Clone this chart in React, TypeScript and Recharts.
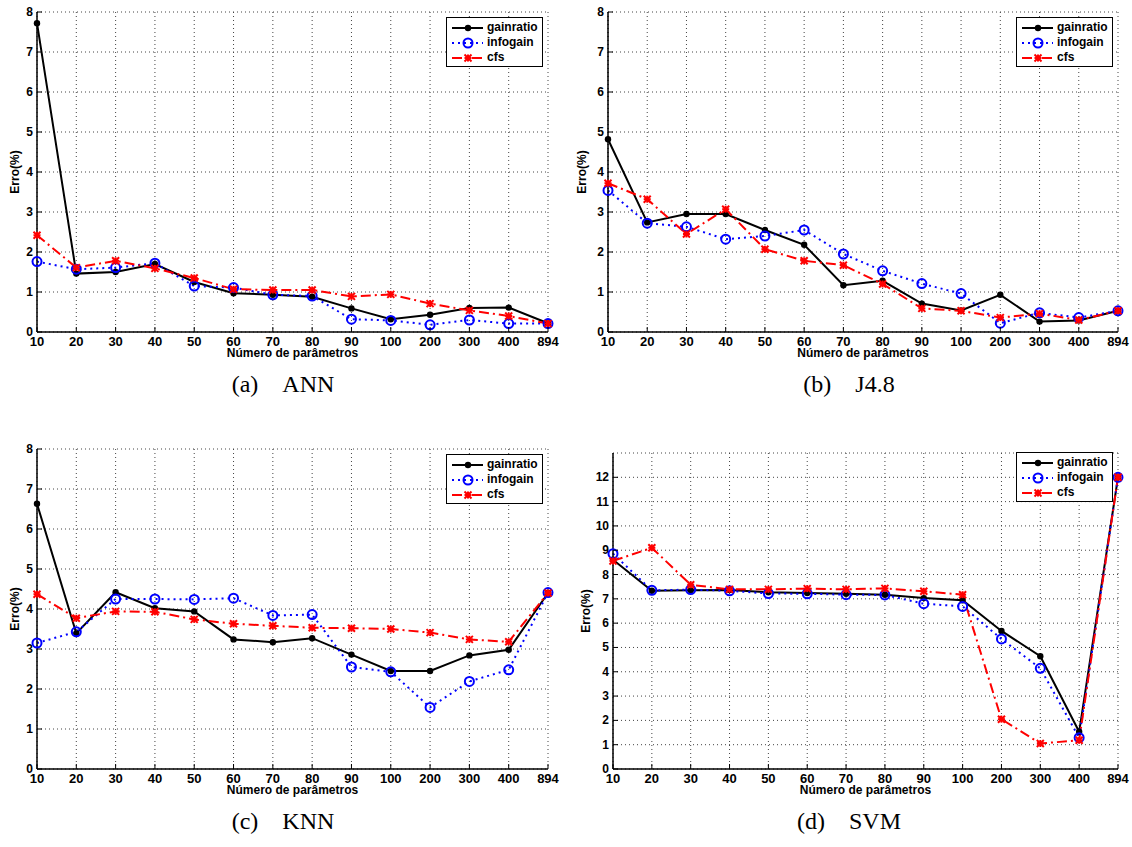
import { LineChart, Line, XAxis, YAxis, CartesianGrid, Legend } from 'recharts'

const categories = ['10', '20', '30', '40', '50', '60', '70', '80', '90', '100', '200', '300', '400', '894']

const annGainratio = [7.72, 1.46, 1.5, 1.7, 1.25, 0.97, 0.93, 0.88, 0.59, 0.32, 0.43, 0.6, 0.61, 0.22]
const annInfogain = [1.76, 1.57, 1.61, 1.72, 1.15, 1.11, 0.93, 0.9, 0.32, 0.29, 0.18, 0.3, 0.21, 0.21]
const annCfs = [2.42, 1.61, 1.78, 1.59, 1.35, 1.07, 1.05, 1.05, 0.89, 0.94, 0.71, 0.54, 0.4, 0.21]

const j48Gainratio = [4.82, 2.74, 2.95, 2.95, 2.55, 2.18, 1.17, 1.28, 0.71, 0.54, 0.93, 0.26, 0.29, 0.53]
const j48Infogain = [3.54, 2.72, 2.63, 2.32, 2.4, 2.55, 1.95, 1.53, 1.21, 0.96, 0.22, 0.48, 0.36, 0.53]
const j48Cfs = [3.72, 3.32, 2.45, 3.07, 2.07, 1.78, 1.67, 1.2, 0.59, 0.53, 0.36, 0.46, 0.3, 0.53]

const knnGainratio = [6.63, 3.39, 4.42, 4.02, 3.94, 3.24, 3.17, 3.27, 2.86, 2.45, 2.45, 2.84, 2.98, 4.4]
const knnInfogain = [3.15, 3.43, 4.25, 4.25, 4.24, 4.27, 3.84, 3.86, 2.55, 2.43, 1.54, 2.19, 2.48, 4.41]
const knnCfs = [4.37, 3.77, 3.94, 3.93, 3.74, 3.63, 3.58, 3.53, 3.52, 3.5, 3.41, 3.24, 3.18, 4.4]

const svmGainratio = [8.61, 7.33, 7.35, 7.36, 7.27, 7.24, 7.21, 7.17, 7.03, 6.94, 5.68, 4.64, 1.53, 12.0]
const svmInfogain = [8.86, 7.35, 7.38, 7.33, 7.22, 7.21, 7.17, 7.16, 6.8, 6.69, 5.35, 4.14, 1.29, 12.0]
const svmCfs = [8.56, 9.1, 7.58, 7.39, 7.39, 7.42, 7.39, 7.43, 7.31, 7.17, 2.05, 1.05, 1.18, 12.0]

const ticks8 = [0, 1, 2, 3, 4, 5, 6, 7, 8]
const ticks12 = [0, 1, 2, 3, 4, 5, 6, 7, 8, 9, 10, 11, 12]

const FONT = '"Liberation Sans", Arial, Helvetica, sans-serif'

const series = [
  { key: 'gainratio', color: '#000000', dash: undefined as string | undefined, marker: 'dot' },
  { key: 'infogain', color: '#0000ff', dash: '2 4', marker: 'circle' },
  { key: 'cfs', color: '#ff0000', dash: '10 4 2 4', marker: 'star' },
]

const buildRows = (g: number[], i: number[], c: number[]) =>
  categories.map((n, k) => ({ n, gainratio: g[k], infogain: i[k], cfs: c[k] }))

function Marker({ cx, cy, type, color }: { cx: number; cy: number; type: string; color: string }) {
  if (type === 'dot') return <circle cx={cx} cy={cy} r={3.2} fill={color} />
  if (type === 'circle') return <circle cx={cx} cy={cy} r={4.5} fill="none" stroke={color} strokeWidth={2} />
  const s = 3.5
  return (
    <g stroke={color} strokeWidth={2}>
      <line x1={cx - s} y1={cy} x2={cx + s} y2={cy} />
      <line x1={cx - s} y1={cy - s} x2={cx + s} y2={cy + s} />
      <line x1={cx - s} y1={cy + s} x2={cx + s} y2={cy - s} />
      <line x1={cx} y1={cy - s} x2={cx} y2={cy + s} />
    </g>
  )
}

const BottomTick = (props: any) => {
  const { x, y, payload } = props
  return (
    <g>
      <line x1={x} y1={y} x2={x} y2={y - 5} stroke="#000" />
      <text x={x} y={y + 14} textAnchor="middle" fontSize={13} fontWeight="bold" fill="#000">
        {payload.value}
      </text>
    </g>
  )
}

const LeftTick = (props: any) => {
  const { x, y, payload } = props
  return (
    <g>
      <line x1={x} y1={y} x2={x + 5} y2={y} stroke="#000" />
      <text x={x - 4} y={y + 4} textAnchor="end" fontSize={12} fontWeight="bold" fill="#000">
        {payload.value}
      </text>
    </g>
  )
}

const TopTick = (props: any) => <line x1={props.x} y1={props.y} x2={props.x} y2={props.y + 5} stroke="#000" />
const RightTick = (props: any) => <line x1={props.x} y1={props.y} x2={props.x - 5} y2={props.y} stroke="#000" />

const LegendBox = () => (
  <div
    style={{
      width: 97,
      height: 50,
      boxSizing: 'border-box',
      border: '1.5px solid #000',
      background: '#fff',
      paddingTop: 2,
      fontFamily: FONT,
      fontWeight: 'bold',
      fontSize: 12,
      color: '#000',
    }}
  >
    {series.map((s) => (
      <div key={s.key} style={{ display: 'flex', alignItems: 'center', height: 15 }}>
        <svg width={40} height={14} style={{ flex: 'none' }}>
          <line x1={5} y1={7} x2={36} y2={7} stroke={s.color} strokeWidth={2} strokeDasharray={s.dash} />
          <Marker cx={21} cy={7} type={s.marker} color={s.color} />
        </svg>
        <span style={{ lineHeight: '15px' }}>{s.key}</span>
      </div>
    ))}
  </div>
)

interface PanelProps {
  left: number
  top: number
  rows: { n: string; gainratio: number; infogain: number; cfs: number }[]
  yMax: number
  yTicks: number[]
  plotTop: number
  plotLeft: number
  plotRight: number
  yLabelX: number
  legendTop: number
  label: string
  name: string
}

const W = 566
const H = 370

function Panel({ left, top, rows, yMax, yTicks, plotTop, plotLeft, plotRight, yLabelX, legendTop, label, name }: PanelProps) {
  const plotBottom = 332
  const margin = { top: plotTop, left: plotLeft - 30, right: W - plotRight, bottom: H - plotBottom - 25 }
  return (
    <div style={{ position: 'absolute', left, top, width: W, height: 437 }}>
      <LineChart width={W} height={H} data={rows} margin={margin} style={{ fontFamily: FONT }}>
        <CartesianGrid stroke="#444" strokeDasharray="1 3" />
        <XAxis
          dataKey="n"
          interval={0}
          height={25}
          tickSize={0}
          tickMargin={0}
          tick={<BottomTick />}
          axisLine={{ stroke: '#000', strokeWidth: 1.5 }}
          label={{
            value: 'Número de parâmetros',
            position: 'insideBottom',
            offset: 0,
            style: { fontSize: 12, fontWeight: 'bold', fill: '#000' },
          }}
        />
        <XAxis
          xAxisId="top"
          orientation="top"
          dataKey="n"
          interval={0}
          height={0}
          tickSize={0}
          tickMargin={0}
          tick={<TopTick />}
          axisLine={{ stroke: '#000', strokeWidth: 1.5 }}
        />
        <YAxis
          type="number"
          domain={[0, yMax]}
          ticks={yTicks}
          interval={0}
          width={30}
          tickSize={0}
          tickMargin={0}
          tick={<LeftTick />}
          axisLine={{ stroke: '#000', strokeWidth: 1.5 }}
          allowDataOverflow
          label={{
            value: 'Erro(%)',
            angle: -90,
            position: 'insideLeft',
            offset: yLabelX - (plotLeft - 30),
            style: { textAnchor: 'middle', fontSize: 12, fontWeight: 'bold', fill: '#000' },
          }}
        />
        <YAxis
          yAxisId="right"
          orientation="right"
          type="number"
          domain={[0, yMax]}
          ticks={yTicks}
          interval={0}
          width={0}
          tickSize={0}
          tickMargin={0}
          tick={<RightTick />}
          axisLine={{ stroke: '#000', strokeWidth: 1.5 }}
          allowDataOverflow
        />
        <Legend
          layout="vertical"
          align="center"
          verticalAlign="middle"
          content={() => <LegendBox />}
          wrapperStyle={{ top: legendTop, left: plotRight - 102, width: 97, height: 50 }}
        />
        {series.map((s) => (
          <Line
            key={s.key}
            type="linear"
            dataKey={s.key}
            stroke={s.color}
            strokeWidth={2}
            strokeDasharray={s.dash}
            isAnimationActive={false}
            dot={(p: any) => <Marker key={`${s.key}-${p.index}`} cx={p.cx} cy={p.cy} type={s.marker} color={s.color} />}
            activeDot={false}
          />
        ))}
      </LineChart>
      <div
        style={{
          position: 'absolute',
          left: 0,
          width: 566,
          top: 369,
          textAlign: 'center',
          fontFamily: '"Liberation Serif", "Times New Roman", serif',
          fontSize: 24,
          lineHeight: '30px',
          color: '#000',
          whiteSpace: 'pre',
        }}
      >
        {label}
        {'\u2003'}
        {name}
      </div>
    </div>
  )
}

export default function App() {
  return (
    <div style={{ position: 'absolute', left: 0, top: 0, width: 1132, height: 847, background: '#fff', overflow: 'hidden' }}>
      <Panel
        left={0}
        top={0}
        rows={buildRows(annGainratio, annInfogain, annCfs)}
        yMax={8}
        yTicks={ticks8}
        plotTop={12}
        plotLeft={37}
        plotRight={548}
        yLabelX={15}
        legendTop={17}
        label="(a)"
        name="ANN"
      />
      <Panel
        left={566}
        top={0}
        rows={buildRows(j48Gainratio, j48Infogain, j48Cfs)}
        yMax={8}
        yTicks={ticks8}
        plotTop={12}
        plotLeft={42}
        plotRight={552}
        yLabelX={16}
        legendTop={17}
        label="(b)"
        name="J4.8"
      />
      <Panel
        left={0}
        top={437}
        rows={buildRows(knnGainratio, knnInfogain, knnCfs)}
        yMax={8}
        yTicks={ticks8}
        plotTop={12}
        plotLeft={37}
        plotRight={548}
        yLabelX={15}
        legendTop={17}
        label="(c)"
        name="KNN"
      />
      <Panel
        left={566}
        top={437}
        rows={buildRows(svmGainratio, svmInfogain, svmCfs)}
        yMax={13}
        yTicks={ticks12}
        plotTop={16}
        plotLeft={47}
        plotRight={552}
        yLabelX={20}
        legendTop={15}
        label="(d)"
        name="SVM"
      />
    </div>
  )
}
